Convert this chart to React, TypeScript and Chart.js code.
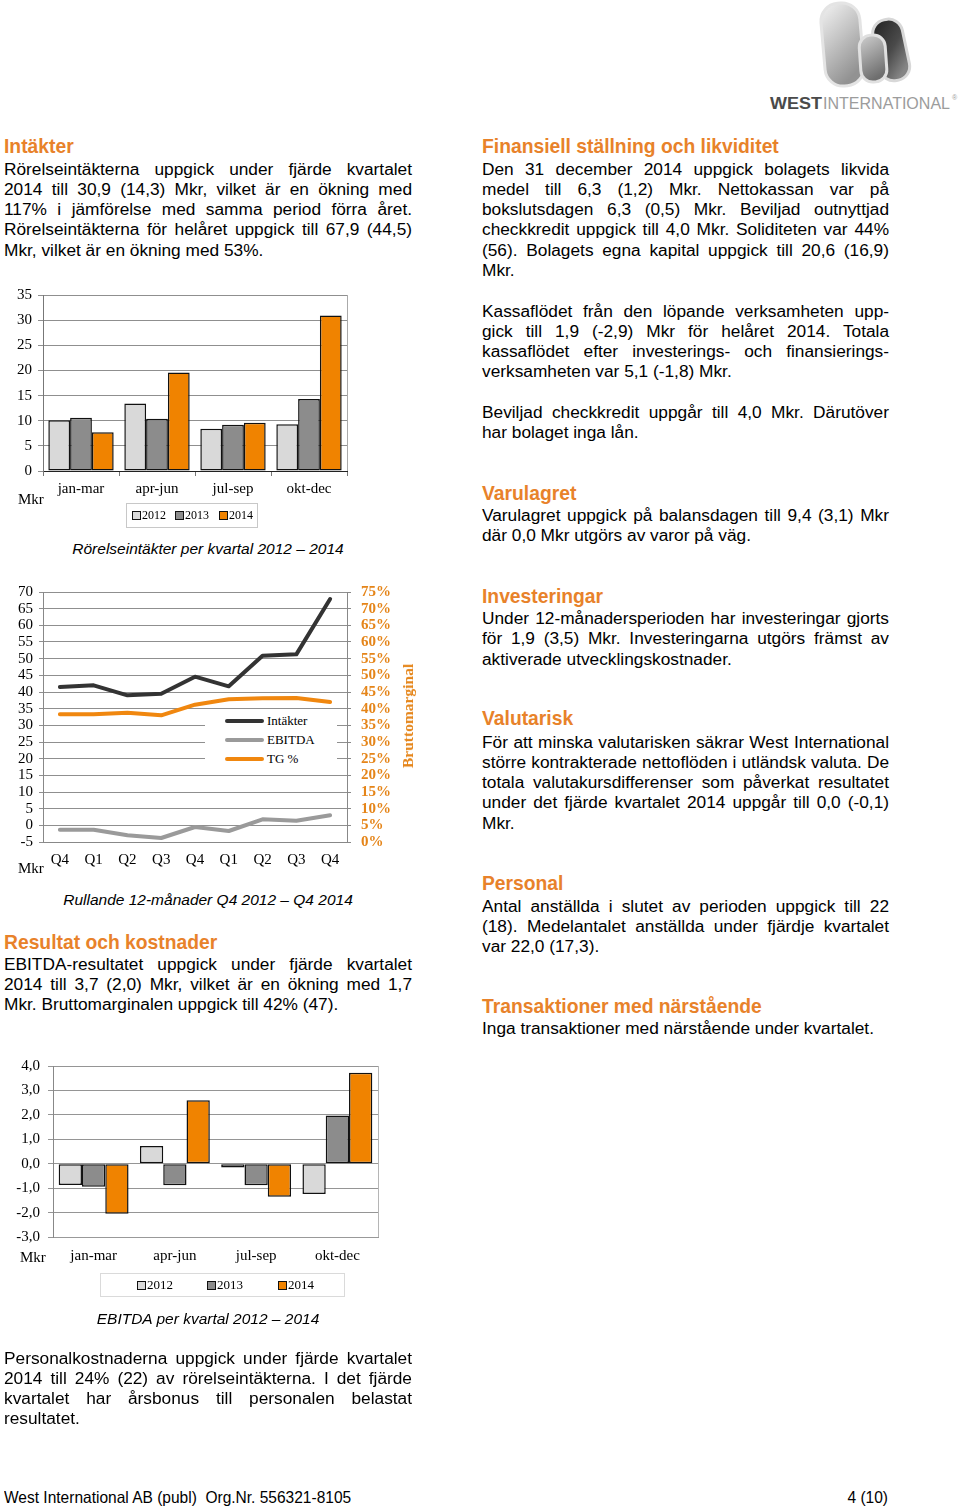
import React, { useEffect, useRef } from 'react';
import { Chart, registerables } from 'chart.js';

Chart.register(...registerables);

// ---------- DATA ----------
const quarterLabels = ['jan-mar', 'apr-jun', 'jul-sep', 'okt-dec'];
const yearLabels = ['2012', '2013', '2014'];
const yearColors = ['#D9D9D9', '#8C8C8C', '#F08300'];

const revenue2012 = [10.1, 13.4, 8.4, 9.3];
const revenue2013 = [10.6, 10.4, 9.2, 14.3];
const revenue2014 = [7.7, 19.6, 9.6, 30.9];

const rollingLabels = ['Q4', 'Q1', 'Q2', 'Q3', 'Q4', 'Q1', 'Q2', 'Q3', 'Q4'];
const rollingSeriesNames = ['Intäkter', 'EBITDA', 'TG %'];
const rollingRevenue = [41.5, 42.0, 39.0, 39.5, 44.6, 41.7, 50.9, 51.3, 67.9];
const rollingEbitda = [-1.3, -1.3, -3.0, -3.8, -0.5, -1.7, 1.8, 1.4, 3.0];
const grossMarginPct = [38.3, 38.3, 38.8, 38.0, 41.2, 42.8, 43.1, 43.2, 42.0];

const ebitda2012 = [-0.87, 0.73, -0.15, -1.24];
const ebitda2013 = [-0.94, -0.88, -0.88, 1.97];
const ebitda2014 = [-2.05, 2.6, -1.35, 3.72];

const chartTitles = [
  'Rörelseintäkter per kvartal 2012 – 2014',
  'Rullande 12-månader Q4 2012 – Q4 2014',
  'EBITDA per kvartal 2012 – 2014',
];

// ---------- STYLE ----------
const SERIF = "'Liberation Serif', 'Times New Roman', serif";
const SANS = "'Liberation Sans', Arial, sans-serif";
const ORANGE_HEAD = '#E8822A';
const ORANGE_AXIS = '#E58519';
const LINE_COLORS = ['#333333', '#9A9A9A', '#F0870F'];

const frameRight = (color: string) => ({
  id: 'frameRight',
  beforeDatasetsDraw(chart: any) {
    const { ctx, chartArea } = chart;
    ctx.save();
    ctx.strokeStyle = color;
    ctx.lineWidth = 1;
    ctx.beginPath();
    ctx.moveTo(Math.round(chartArea.right) + 0.5, chartArea.top);
    ctx.lineTo(Math.round(chartArea.right) + 0.5, chartArea.bottom);
    ctx.stroke();
    ctx.restore();
  },
});

function ChartCanvas({ left, top, width, height, build }: any) {
  const ref = useRef<HTMLCanvasElement | null>(null);
  useEffect(() => {
    const chart = new Chart(ref.current as HTMLCanvasElement, build());
    return () => chart.destroy();
  }, []);
  return (
    <canvas
      ref={ref}
      width={width}
      height={height}
      style={{ position: 'absolute', left, top, width, height }}
    />
  );
}

function barDatasets(series: number[][]) {
  return series.map((d, i) => ({
    label: yearLabels[i],
    data: d,
    backgroundColor: yearColors[i],
    borderColor: '#111',
    borderWidth: 1.5,
    borderSkipped: false,
    categoryPercentage: 0.86,
    barPercentage: 1,
  }));
}

const tickFont = { family: SERIF, size: 15, lineHeight: 1.2 };

function buildRevenue() {
  return {
    type: 'bar',
    data: { labels: quarterLabels, datasets: barDatasets([revenue2012, revenue2013, revenue2014]) },
    options: {
      animation: false,
      responsive: false,
      layout: { padding: { top: 20, right: 23, bottom: 0, left: 0 } },
      plugins: { legend: { display: false }, tooltip: { enabled: false } },
      scales: {
        x: {
          grid: { drawOnChartArea: false, drawTicks: true, tickLength: 5, color: '#777' },
          border: { color: '#222' },
          ticks: { color: '#000', font: tickFont, padding: 4, maxRotation: 0 },
          afterFit: (s: any) => { s.height = 34; },
        },
        y: {
          min: 0,
          max: 35,
          ticks: { stepSize: 5, autoSkip: false, color: '#000', font: tickFont, padding: 6 },
          grid: { color: '#8f8f8f', tickLength: 5 },
          border: { color: '#777' },
          afterFit: (s: any) => { s.width = 43; },
        },
      },
    },
    plugins: [frameRight('#aaaaaa')],
  };
}

function buildRolling() {
  const series = [rollingRevenue, rollingEbitda, grossMarginPct];
  return {
    type: 'line',
    data: {
      labels: rollingLabels,
      datasets: series.map((d, i) => ({
        label: rollingSeriesNames[i],
        data: d,
        yAxisID: i === 2 ? 'y1' : 'y',
        borderColor: LINE_COLORS[i],
        backgroundColor: LINE_COLORS[i],
        borderWidth: 4,
        pointRadius: 0,
        tension: 0,
        borderJoinStyle: 'round',
        borderCapStyle: 'round',
        fill: false,
      })),
    },
    options: {
      animation: false,
      responsive: false,
      layout: { padding: { top: 20, right: 0, bottom: 0, left: 0 } },
      plugins: { legend: { display: false }, tooltip: { enabled: false } },
      scales: {
        x: {
          offset: true,
          grid: { drawOnChartArea: false, drawTicks: false, color: '#888' },
          border: { color: '#888' },
          ticks: { color: '#000', font: tickFont, padding: 9, maxRotation: 0, autoSkip: false },
          afterFit: (s: any) => { s.height = 33; },
        },
        y: {
          min: -5,
          max: 70,
          ticks: { stepSize: 5, autoSkip: false, color: '#000', font: tickFont, padding: 6 },
          grid: { color: '#8f8f8f', tickLength: 4 },
          border: { color: '#888' },
          afterFit: (s: any) => { s.width = 43; },
        },
        y1: {
          position: 'right',
          min: 0,
          max: 75,
          ticks: {
            stepSize: 5,
            autoSkip: false,
            color: ORANGE_AXIS,
            font: { ...tickFont, weight: 'bold' },
            padding: 10,
            callback: (v: any) => v + '%',
          },
          grid: { drawOnChartArea: false, tickLength: 4, color: '#888' },
          border: { color: '#888' },
          afterFit: (s: any) => { s.width = 83; },
        },
      },
    },
  };
}

function buildEbitda() {
  return {
    type: 'bar',
    data: { labels: quarterLabels, datasets: barDatasets([ebitda2012, ebitda2013, ebitda2014]) },
    options: {
      animation: false,
      responsive: false,
      layout: { padding: { top: 20, right: 12, bottom: 0, left: 0 } },
      plugins: { legend: { display: false }, tooltip: { enabled: false } },
      scales: {
        x: {
          grid: { drawOnChartArea: false, drawTicks: false, color: '#999' },
          border: { color: '#999' },
          ticks: { color: '#000', font: tickFont, padding: 10, maxRotation: 0 },
          afterFit: (s: any) => { s.height = 33; },
        },
        y: {
          min: -3,
          max: 4,
          ticks: {
            stepSize: 1,
            autoSkip: false,
            color: '#000',
            font: tickFont,
            padding: 8,
            callback: (v: any) => Number(v).toFixed(1).replace('.', ','),
          },
          grid: { color: '#959595', tickLength: 5 },
          border: { color: '#888' },
          afterFit: (s: any) => { s.width = 53; },
        },
      },
    },
    plugins: [frameRight('#b5b5b5')],
  };
}

// ---------- TEXT ----------
const LH = 20.2;

function Heading({ x, cy, text }: any) {
  return (
    <div
      style={{
        position: 'absolute',
        left: x,
        top: cy - 10.8,
        fontFamily: SANS,
        fontWeight: 'bold',
        fontSize: 19.3,
        lineHeight: '22px',
        color: ORANGE_HEAD,
        whiteSpace: 'nowrap',
      }}
    >
      {text}
    </div>
  );
}

function Para({ x, cy, width, lines }: any) {
  return (
    <>
      {lines.map((l: string, i: number) => (
        <div
          key={i}
          style={{
            position: 'absolute',
            left: x,
            top: cy + i * LH - 10.3,
            width,
            fontFamily: SANS,
            fontSize: 17.3,
            lineHeight: '20px',
            color: '#000',
            textAlign: 'justify',
            textAlignLast: i < lines.length - 1 ? 'justify' : 'left',
          } as any}
        >
          {l}
        </div>
      ))}
    </>
  );
}

function Legend({ left, top, width, height, itemX, boxSize, fontSize, border }: any) {
  return (
    <div
      style={{
        position: 'absolute',
        left,
        top,
        width,
        height,
        border: `1px solid ${border}`,
        boxSizing: 'border-box',
        background: '#fff',
      }}
    >
      {yearLabels.map((y, i) => (
        <div
          key={y}
          style={{
            position: 'absolute',
            left: itemX[i],
            top: 0,
            height: height - 2,
            display: 'flex',
            alignItems: 'center',
            fontFamily: SERIF,
            fontSize,
            color: '#000',
          }}
        >
          <span
            style={{
              display: 'inline-block',
              width: boxSize,
              height: boxSize,
              background: yearColors[i],
              border: '1px solid #111',
              marginRight: 1,
            }}
          />
          {y}
        </div>
      ))}
    </div>
  );
}

function Logo() {
  return (
    <svg width={200} height={120} style={{ position: 'absolute', left: 760, top: 0 }}>
      <defs>
        <linearGradient id="gTall" x1="0" y1="0" x2="0.4" y2="1">
          <stop offset="0" stopColor="#f4f4f4" />
          <stop offset="0.5" stopColor="#c4c4c4" />
          <stop offset="1" stopColor="#929292" />
        </linearGradient>
        <linearGradient id="gMid" x1="0" y1="0" x2="0.3" y2="1">
          <stop offset="0" stopColor="#d0d0d0" />
          <stop offset="1" stopColor="#6e6e6e" />
        </linearGradient>
        <linearGradient id="gDark" x1="0" y1="0" x2="0.5" y2="1">
          <stop offset="0" stopColor="#1f1f1f" />
          <stop offset="0.6" stopColor="#4a4a4a" />
          <stop offset="1" stopColor="#858585" />
        </linearGradient>
      </defs>
      <g transform="rotate(-5 82 45)">
        <rect x={63} y={3} width={39} height={83} rx={18} fill="url(#gTall)" stroke="#e4e4e4" strokeWidth={3} />
      </g>
      <g transform="rotate(-12 131 49)">
        <rect x={116} y={19} width={30} height={62} rx={14} fill="url(#gDark)" stroke="#d8d8d8" strokeWidth={3} />
      </g>
      <g transform="rotate(-4 113 58)">
        <rect x={100} y={35} width={26} height={47} rx={12} fill="url(#gMid)" stroke="#e0e0e0" strokeWidth={3} />
      </g>
      <text y={109} fontFamily={SANS} fontSize={17}>
        <tspan x={10} fontWeight="bold" fill="#4a4a4a" textLength={52} lengthAdjust="spacingAndGlyphs">WEST</tspan>
        <tspan x={63} fill="#9c9c9c" textLength={127} lengthAdjust="spacingAndGlyphs">INTERNATIONAL</tspan>
      </text>
      <text x={192} y={100} fontFamily={SANS} fontSize={7} fill="#9c9c9c">®</text>
    </svg>
  );
}

const serifLabel = (extra: any) => ({
  position: 'absolute',
  fontFamily: SERIF,
  fontSize: 15,
  color: '#000',
  whiteSpace: 'nowrap',
  ...extra,
});

function ChartTitle({ cy, text }: any) {
  return (
    <div
      style={{
        position: 'absolute',
        left: 8,
        width: 400,
        top: cy - 9.5,
        textAlign: 'center',
        fontFamily: SANS,
        fontStyle: 'italic',
        fontSize: 15.5,
        lineHeight: '18px',
        color: '#000',
      }}
    >
      {text}
    </div>
  );
}

const footerStyle: any = {
  position: 'absolute',
  top: 1488,
  fontFamily: SANS,
  fontSize: 16.5,
  lineHeight: '18px',
  color: '#000',
  whiteSpace: 'pre',
};

export default function App() {
  return (
    <div
      style={{
        position: 'absolute',
        left: 0,
        top: 0,
        width: 960,
        height: 1507,
        background: '#fff',
        overflow: 'hidden',
      }}
    >
      <Logo />

      {/* Left column */}
      <Heading x={4} cy={147} text="Intäkter" />
      <Para
        x={4}
        cy={169}
        width={408}
        lines={[
          'Rörelseintäkterna uppgick under fjärde kvartalet',
          '2014 till 30,9 (14,3) Mkr, vilket är en ökning med',
          '117% i jämförelse med samma period förra året.',
          'Rörelseintäkterna för helåret uppgick till 67,9 (44,5)',
          'Mkr, vilket är en ökning med 53%.',
        ]}
      />

      <ChartCanvas left={0} top={275} width={370} height={230} build={buildRevenue} />
      <div style={serifLabel({ left: 18, top: 491 })}>Mkr</div>
      <Legend left={126} top={503} width={132} height={25} itemX={[5, 48, 92]} boxSize={7} fontSize={12} border="#c8c8c8" />
      <ChartTitle cy={549} text={chartTitles[0]} />

      <ChartCanvas left={0} top={572} width={430} height={303} build={buildRolling} />
      <div style={{ position: 'absolute', left: 205, top: 712, width: 132, height: 56, background: '#fff' }}>
        {rollingSeriesNames.map((n, i) => (
          <div key={n} style={{ position: 'absolute', left: 20, top: 1 + i * 19, height: 16, display: 'flex', alignItems: 'center' }}>
            <span style={{ display: 'inline-block', width: 39, height: 4, borderRadius: 2, background: LINE_COLORS[i], marginRight: 3 }} />
            <span style={{ fontFamily: SERIF, fontSize: 13, color: '#000', whiteSpace: 'nowrap' }}>{n}</span>
          </div>
        ))}
      </div>
      <div
        style={{
          position: 'absolute',
          left: 408,
          top: 716,
          transform: 'translate(-50%, -50%) rotate(-90deg)',
          fontFamily: SERIF,
          fontWeight: 'bold',
          fontSize: 15.5,
          color: ORANGE_AXIS,
          whiteSpace: 'nowrap',
        }}
      >
        Bruttomarginal
      </div>
      <div style={serifLabel({ left: 18, top: 860 })}>Mkr</div>
      <ChartTitle cy={900} text={chartTitles[1]} />

      <Heading x={4} cy={943} text="Resultat och kostnader" />
      <Para
        x={4}
        cy={964}
        width={408}
        lines={[
          'EBITDA-resultatet uppgick under fjärde kvartalet',
          '2014 till 3,7 (2,0) Mkr, vilket är en ökning med 1,7',
          'Mkr. Bruttomarginalen uppgick till 42% (47).',
        ]}
      />

      <ChartCanvas left={0} top={1046} width={390} height={224} build={buildEbitda} />
      <div style={serifLabel({ left: 20, top: 1249 })}>Mkr</div>
      <Legend left={100} top={1273} width={245} height={24} itemX={[36, 106, 177]} boxSize={7} fontSize={13} border="#dadada" />
      <ChartTitle cy={1319} text={chartTitles[2]} />

      <Para
        x={4}
        cy={1358}
        width={408}
        lines={[
          'Personalkostnaderna uppgick under fjärde kvartalet',
          '2014 till 24% (22) av rörelseintäkterna. I det fjärde',
          'kvartalet har årsbonus till personalen belastat',
          'resultatet.',
        ]}
      />

      {/* Right column */}
      <Heading x={482} cy={147} text="Finansiell ställning och likviditet" />
      <Para
        x={482}
        cy={169}
        width={407}
        lines={[
          'Den 31 december 2014 uppgick bolagets likvida',
          'medel till 6,3 (1,2) Mkr. Nettokassan var på',
          'bokslutsdagen 6,3 (0,5) Mkr. Beviljad outnyttjad',
          'checkkredit uppgick till 4,0 Mkr. Soliditeten var 44%',
          '(56). Bolagets egna kapital uppgick till 20,6 (16,9)',
          'Mkr.',
        ]}
      />
      <Para
        x={482}
        cy={311}
        width={407}
        lines={[
          'Kassaflödet från den löpande verksamheten upp-',
          'gick till 1,9 (-2,9) Mkr för helåret 2014.  Totala',
          'kassaflödet efter investerings- och finansierings-',
          'verksamheten var 5,1 (-1,8) Mkr.',
        ]}
      />
      <Para
        x={482}
        cy={412}
        width={407}
        lines={['Beviljad checkkredit uppgår till 4,0 Mkr. Därutöver', 'har bolaget inga lån.']}
      />

      <Heading x={482} cy={494} text="Varulagret" />
      <Para
        x={482}
        cy={515}
        width={407}
        lines={['Varulagret uppgick på balansdagen till 9,4 (3,1) Mkr', 'där 0,0 Mkr utgörs av varor på väg.']}
      />

      <Heading x={482} cy={597} text="Investeringar" />
      <Para
        x={482}
        cy={618.5}
        width={407}
        lines={[
          'Under 12-månadersperioden har investeringar gjorts',
          'för 1,9 (3,5) Mkr. Investeringarna utgörs främst av',
          'aktiverade utvecklingskostnader.',
        ]}
      />

      <Heading x={482} cy={719} text="Valutarisk" />
      <Para
        x={482}
        cy={742}
        width={407}
        lines={[
          'För att minska valutarisken säkrar West International',
          'större kontrakterade nettoflöden i utländsk valuta. De',
          'totala valutakursdifferenser som påverkat resultatet',
          'under det fjärde kvartalet 2014 uppgår till 0,0 (-0,1)',
          'Mkr.',
        ]}
      />

      <Heading x={482} cy={884} text="Personal" />
      <Para
        x={482}
        cy={906}
        width={407}
        lines={[
          'Antal anställda i slutet av perioden uppgick till 22',
          '(18). Medelantalet anställda under fjärdje kvartalet',
          'var 22,0 (17,3).',
        ]}
      />

      <Heading x={482} cy={1007} text="Transaktioner med närstående" />
      <Para x={482} cy={1028} width={407} lines={['Inga transaktioner med närstående under kvartalet.']} />

      {/* Footer */}
      <div style={{ ...footerStyle, left: 4, transform: 'scaleX(0.94)', transformOrigin: 'left center' }}>
        {'West International AB (publ)  Org.Nr. 556321-8105'}
      </div>
      <div style={{ ...footerStyle, left: 788, width: 100, textAlign: 'right', transform: 'scaleX(0.94)', transformOrigin: 'right center' }}>
        4 (10)
      </div>
    </div>
  );
}
